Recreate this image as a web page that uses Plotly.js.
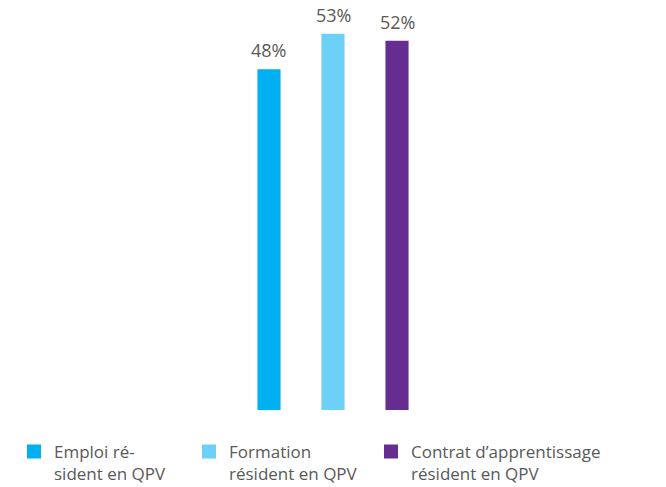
<!DOCTYPE html>
<html>
<head>
<meta charset="utf-8">
<script src="https://cdn.plot.ly/plotly-3.0.1.min.js"></script>
<style>html,body{margin:0;padding:0;background:#fff;}#chart{width:666px;height:487px;}</style>
</head>
<body>
<div id="chart"></div>
<script>
const categories = ["Emploi", "Formation", "Contrat"];
const seriesNames = ["Emploi ré-<br>sident en QPV", "Formation<br>résident en QPV", "Contrat d’apprentissage<br>résident en QPV"];
const values = [48, 53, 52];
const labels = ["48%", "53%", "52%"];
const colors = ["#00B0F0", "#6DD0F7", "#662D91"];
const legendIds = ["legend", "legend2", "legend3"];
const legendX = [-0.0096, 0.27, 0.5607];

const traces = categories.map((c, i) => ({
  type: "bar",
  x: [c],
  y: [values[i]],
  name: seriesNames[i],
  legend: legendIds[i],
  marker: {color: colors[i], line: {color: colors[i], width: 2}},
  width: 0.33,
  hoverinfo: "none"
}));

const annotations = categories.map((c, i) => ({
  x: c, y: values[i], xref: "x", yref: "y",
  text: labels[i], showarrow: false,
  yanchor: "bottom", xanchor: "center", yshift: 6,
  font: {size: 18, color: "#595959"}
}));

const legendBase = {orientation: "v", xanchor: "left", y: -0.06, yanchor: "top", valign: "top",
  font: {size: 17, color: "#595959"}, bgcolor: "rgba(0,0,0,0)", borderwidth: 0, itemclick: false};

const layout = {
  width: 666, height: 487,
  margin: {l: 20, r: 20, t: 10, b: 77, autoexpand: false},
  paper_bgcolor: "#fff", plot_bgcolor: "#fff",
  font: {family: "Open Sans, sans-serif", color: "#595959", size: 16},
  barmode: "overlay",
  showlegend: true,
  xaxis: {type: "category", range: [-3.89, 5.89], showticklabels: false, showgrid: false, zeroline: false, showline: false, ticks: ""},
  yaxis: {range: [0, 56.5], visible: false, showgrid: false, zeroline: false},
  annotations: annotations
};
legendIds.forEach((id, i) => { layout[id] = Object.assign({}, legendBase, {x: legendX[i]}); });

Plotly.newPlot("chart", traces, layout, {displayModeBar: false, staticPlot: true});
</script>
</body>
</html>
